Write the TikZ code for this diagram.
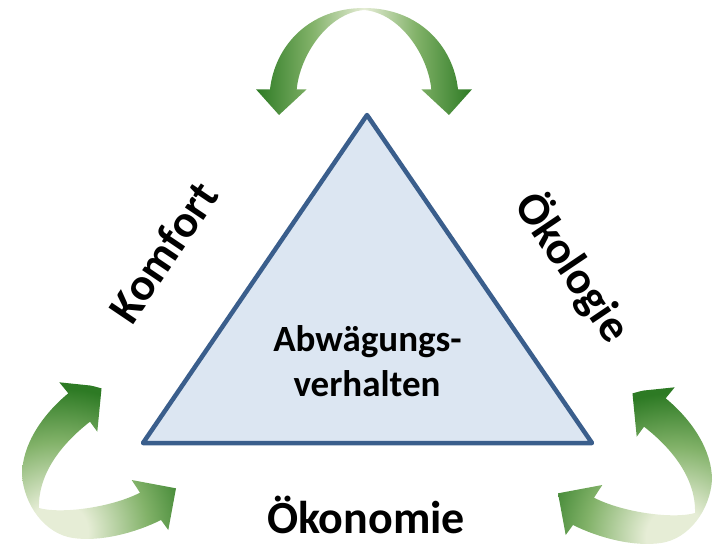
\documentclass[tikz,border=0pt]{standalone}
\usepackage{fontspec}
\setmainfont{Carlito}
\definecolor{arrdark}{RGB}{45,122,36}
\definecolor{arrmid}{RGB}{130,178,105}
\definecolor{arrlight}{RGB}{230,237,214}
\definecolor{triborder}{RGB}{58,94,140}
\definecolor{trifill}{RGB}{220,230,242}
\pgfdeclareradialshading{arrowrad}{\pgfpoint{0bp}{0bp}}{color(0bp)=(arrlight); color(5bp)=(arrlight); color(15bp)=(arrmid); color(24bp)=(arrdark); color(50bp)=(arrdark)}
\pgfdeclarehorizontalshading{toparr}{100bp}{color(0bp)=(arrdark); color(25bp)=(arrdark); color(38bp)=(arrmid); color(50bp)=(arrlight); color(62bp)=(arrmid); color(75bp)=(arrdark); color(100bp)=(arrdark)}
\newcommand\myBLclip{\clip (59.3,382.3) -- (101.7,386.7) -- (97.3,431.7) -- (90,421.7)
  .. controls (60,445) and (38,475) .. (39,508)
  .. controls (60,514) and (110,508) .. (140,492.7)
  -- (131.7,480) -- (176,488.3) -- (168.3,530) -- (161,520)
  .. controls (135,533) and (100,542) .. (73,538)
  .. controls (45,534) and (24,505) .. (22,475)
  .. controls (22,445) and (42,415) .. (68.3,393.3) -- cycle;}
\begin{document}
\begin{tikzpicture}[x=1pt,y=-1pt,
  tri/.style={draw=triborder, fill=trifill, line width=4.5pt, line join=round},
  bigtxt/.style={font=\fontsize{46}{50}\selectfont\bfseries, inner sep=0pt},
  midtxt/.style={font=\fontsize{37}{42}\selectfont\bfseries, inner sep=0pt}]
\useasboundingbox (0,0) rectangle (719,544);
% top double arrow
\shade[shading=toparr] (279,115) -- (306.7,89.3) -- (296.7,89.3)
  .. controls (300,55) and (328,13) .. (364,10)
  .. controls (400,13) and (428,55) .. (431.3,89.3)
  -- (421.3,89.3) -- (449,115) -- (472,89.3) -- (458,89.3)
  .. controls (453,45) and (418,8) .. (364,8)
  .. controls (310,8) and (275,45) .. (270,89.3) -- (256,89.3) -- cycle;
% bottom-left arrow
\begin{scope}
  \myBLclip
  \shade[shading=arrowrad] (58,532) circle (150);
\end{scope}
% bottom-right arrow (mirror)
\begin{scope}[shift={(734,5)}, xscale=-1]
  \myBLclip
  \shade[shading=arrowrad] (58,532) circle (150);
\end{scope}
% triangle
\coordinate (tt) at (367,115);
\coordinate (tl) at (143,443);
\coordinate (tr) at (592,443);
\draw[tri] (tt) -- (tl) -- (tr) -- cycle;
% texts
\node[midtxt, anchor=base] (abw1) at (367.5,351.7) {Abwägungs-};
\node[midtxt, anchor=base] (abw2) at (367,396.7) {verhalten};
\node[bigtxt, anchor=base] (oekon) at (366,533) {Ökonomie};
\node[bigtxt, rotate=56] (komf) at (163,252) {Komfort};
\node[bigtxt, rotate=-56] (oekol) at (573,267) {Ökologie};
\end{tikzpicture}
\end{document}
